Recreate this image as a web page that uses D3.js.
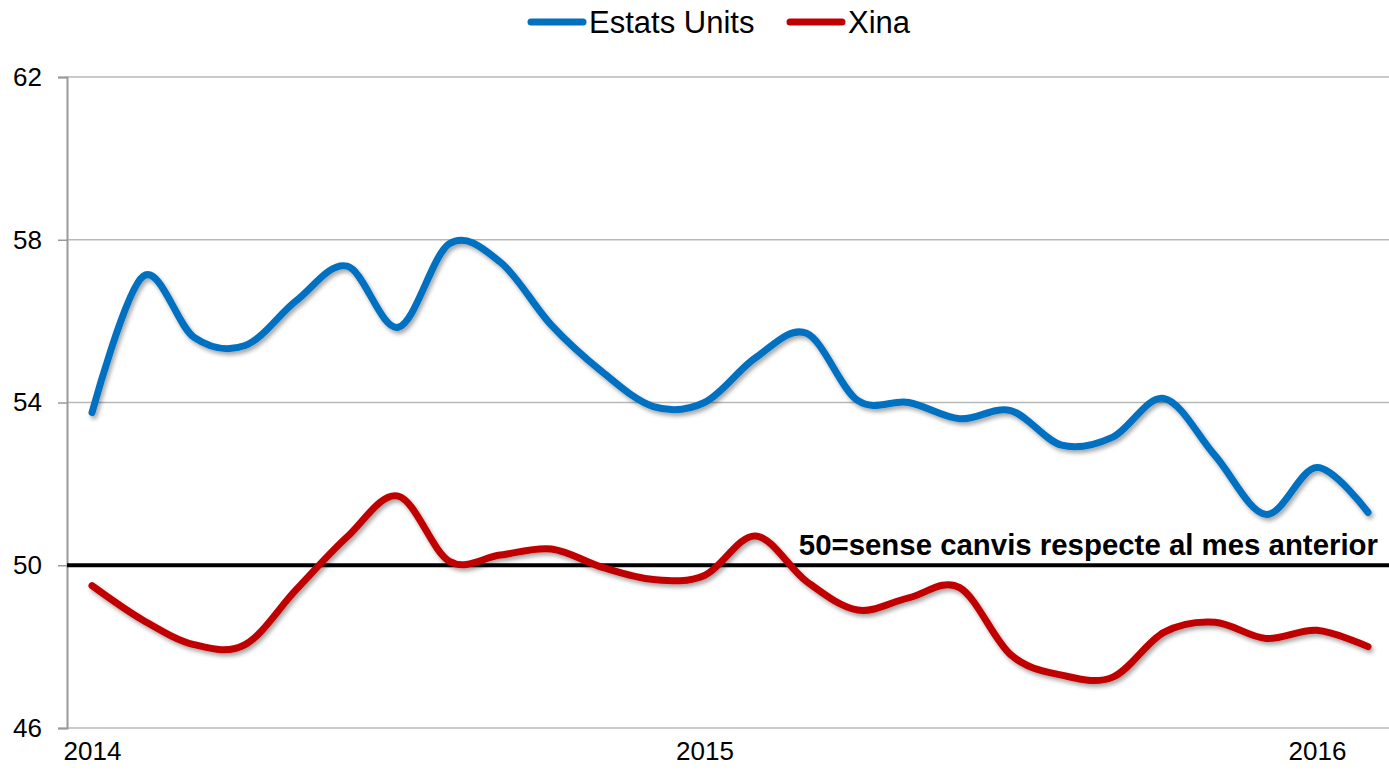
<!DOCTYPE html>
<meta charset="utf-8">
<style>
body { margin: 0; background: #fff; }
text { font-family: Arial, "Liberation Sans", Helvetica, sans-serif; }
</style>
<svg width="1389" height="772"></svg>
<script src="https://d3js.org/d3.v7.min.js"></script>
<script>

// monthly index 0 = Jan 2014 ... 25 = Feb 2016
var months = d3.range(26);
var yearTicks = [0, 12, 24],
    yearLabels = ["2014", "2015", "2016"];
var yTicks = [46, 50, 54, 58, 62];

var estatsUnits = [53.75, 57.1, 55.6, 55.4, 56.5, 57.35, 55.85, 57.9, 57.45, 55.9,
                   54.75, 53.9, 54.0, 55.1, 55.7, 54.05, 54.0, 53.6, 53.8, 52.95,
                   53.15, 54.1, 52.7, 51.25, 52.4, 51.3];
var xina = [49.5, 48.65, 48.05, 48.05, 49.4, 50.7, 51.7, 50.1, 50.25, 50.4,
            49.95, 49.65, 49.75, 50.72, 49.6, 48.9, 49.2, 49.45, 47.8, 47.3,
            47.25, 48.35, 48.6, 48.2, 48.4, 48.0];

var seriesNames = ["Estats Units", "Xina"],
    seriesColors = ["#0070C0", "#C00000"];
var refValue = 50,
    refLabel = "50=sense canvis respecte al mes anterior";

var svg = d3.select("svg"),
    margin = {top: 77, right: 0, bottom: 44, left: 67},
    width = +svg.attr("width") - margin.left - margin.right,
    height = +svg.attr("height") - margin.top - margin.bottom,
    g = svg.append("g").attr("transform", "translate(" + margin.left + "," + margin.top + ")");

// soft drop shadow like the office chart
var defs = svg.append("defs");
defs.append("filter")
    .attr("id", "shadow")
    .attr("x", "-5%").attr("y", "-20%")
    .attr("width", "110%").attr("height", "140%")
  .append("feDropShadow")
    .attr("dx", 2).attr("dy", 3)
    .attr("stdDeviation", 2)
    .attr("flood-color", "#000")
    .attr("flood-opacity", 0.35);

var x = d3.scaleLinear()
    .domain([0, 25])
    .range([25, 1301]);

var y = d3.scaleLinear()
    .domain([46, 62])
    .range([height, 0]);

// horizontal grid
g.append("g")
    .selectAll("line")
    .data(yTicks)
    .enter().append("line")
    .attr("x1", 0)
    .attr("x2", width)
    .attr("y1", function(d) { return y(d); })
    .attr("y2", function(d) { return y(d); })
    .attr("stroke", "#b8b8b8")
    .attr("stroke-width", 1.5);

// y axis
var yAxis = g.append("g")
    .call(d3.axisLeft(y)
        .tickValues(yTicks)
        .tickSize(9)
        .tickPadding(16));
yAxis.select(".domain").attr("stroke", "#999").attr("stroke-width", 2);
yAxis.selectAll(".tick line").attr("stroke", "#999").attr("stroke-width", 1.5);
yAxis.selectAll(".tick text")
    .attr("font-size", "26px")
    .attr("fill", "#000")
    .style("font-family", "Arial, 'Liberation Sans', sans-serif");

// x axis labels
var xAxis = g.append("g")
    .attr("transform", "translate(0," + height + ")")
    .call(d3.axisBottom(x)
        .tickValues(yearTicks)
        .tickFormat(function(d, i) { return yearLabels[i]; })
        .tickSize(0)
        .tickPadding(14));
xAxis.select(".domain").remove();
xAxis.selectAll(".tick text")
    .attr("font-size", "26px")
    .attr("fill", "#000")
    .style("font-family", "Arial, 'Liberation Sans', sans-serif");

// reference line at 50
g.append("line")
    .attr("x1", 0)
    .attr("x2", width)
    .attr("y1", y(refValue))
    .attr("y2", y(refValue))
    .attr("stroke", "#000")
    .attr("stroke-width", 4);

g.append("text")
    .attr("x", 1311)
    .attr("y", y(refValue) - 10)
    .attr("text-anchor", "end")
    .attr("font-size", "29.4px")
    .attr("font-weight", "bold")
    .attr("fill", "#000")
    .text(refLabel);

var line = d3.line()
    .x(function(d, i) { return x(months[i]); })
    .y(function(d) { return y(d); })
    .curve(d3.curveCardinal.tension(0));

[estatsUnits, xina].forEach(function(s, i) {
    g.append("path")
        .datum(s)
        .attr("fill", "none")
        .attr("stroke", seriesColors[i])
        .attr("stroke-width", 7)
        .attr("stroke-linecap", "round")
        .attr("stroke-linejoin", "round")
        .attr("filter", "url(#shadow)")
        .attr("d", line);
});

// legend
var legendPos = [528, 787];
var legend = svg.append("g");
seriesNames.forEach(function(name, i) {
    legend.append("line")
        .attr("x1", legendPos[i] + 3)
        .attr("x2", legendPos[i] + 55)
        .attr("y1", 22)
        .attr("y2", 22)
        .attr("stroke", seriesColors[i])
        .attr("stroke-width", 7)
        .attr("stroke-linecap", "round");
    legend.append("text")
        .attr("x", legendPos[i] + 61)
        .attr("y", 33)
        .attr("font-size", "31px")
        .attr("fill", "#000")
        .text(name);
});

</script>
